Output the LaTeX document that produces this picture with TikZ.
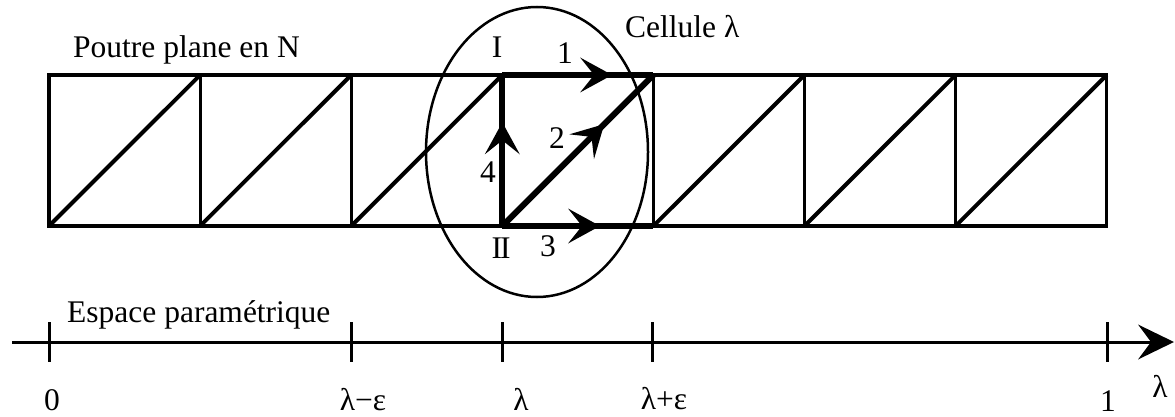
\documentclass[tikz,border=0pt]{standalone}
\usepackage{fontspec}
\setmainfont{Liberation Serif}
\usetikzlibrary{arrows.meta,decorations.markings,positioning,shapes.geometric}

\tikzset{
  thin bar/.style={line width=3.2pt},
  diag bar/.style={line width=4pt},
  thick bar/.style={line width=6pt},
  flow/.style={thick bar, postaction={decorate},
    decoration={markings, mark=at position #1 with
      {\fill (1,0) -- (-31,17.5) -- (-17,0) -- (-31,-17.5) -- cycle;}}},
  lbl/.style={inner sep=0pt, font=\fontsize{31.5}{36}\selectfont},
  tick/.style={line width=3pt},
}

\begin{document}
\begin{tikzpicture}[x=1pt,y=-1pt]
  \useasboundingbox (0,0) rectangle (1175,417);

  % corners of the cells
  \foreach \i in {0,...,7}{
    \coordinate (t\i) at ({49+151.1*\i},75);
    \coordinate (b\i) at ({49+151.1*\i},226);
  }

  % Beam
  \draw[thin bar] (t0) rectangle (b7);
  \foreach \i in {1,...,6}
    \draw[thin bar] (t\i) -- (b\i);
  \foreach \i [count=\j] in {0,...,6}
    \draw[diag bar] (b\i) -- (t\j);

  % Cell lambda
  \draw[flow=0.72, line cap=square] (t3) -- (t4);
  \draw[flow=0.68, line cap=square] (b3) -- (t3);
  \draw[flow=0.67] (b3) -- (t4);
  \draw[flow=0.64] (b3) -- (b4);
  \node[draw, ellipse, line width=2.5pt, inner sep=0pt,
        minimum width=222pt, minimum height=290pt] (cell) at (537,152) {};

  \node[lbl] (nI) at (497,47) {I};
  \node[lbl] (nII) at (501,248) {I\kern-2pt I};
  \node[lbl] (n1) at (565,53) {1};
  \node[lbl] (n2) at (557,138) {2};
  \node[lbl] (n3) at (548,246) {3};
  \node[lbl] (n4) at (488,172) {4};

  \node[lbl, anchor=base west] (beam) at (73,58) {Poutre plane en N};
  \node[lbl, anchor=base west] (celltxt) at (625,38) {Cellule λ};

  % Parameter axis
  \coordinate (a0) at (12,342);
  \coordinate (a1) at (1174,342);
  \draw[line width=3pt] (a0) -- ([xshift=-20pt]a1);
  \fill (a1) -- ++(-36,17.5) -- ++(13,-17.5) -- ++(-13,-17.5) -- cycle;
  \foreach \x in {49,351,502,652,1107}
    \draw[tick] (\x,322) -- (\x,362);

  \node[lbl, anchor=base west] (space) at (67,322) {Espace paramétrique};
  \node[lbl] (p0) at (52,400) {0};
  \node[lbl] (pm) at (363,400) {λ−ε};
  \node[lbl] (pl) at (521,399) {λ};
  \node[lbl] (pp) at (664,399) {λ+ε};
  \node[lbl] (p1) at (1108,401) {1};
  \node[lbl] (axl) at (1160,386) {λ};
\end{tikzpicture}
\end{document}
